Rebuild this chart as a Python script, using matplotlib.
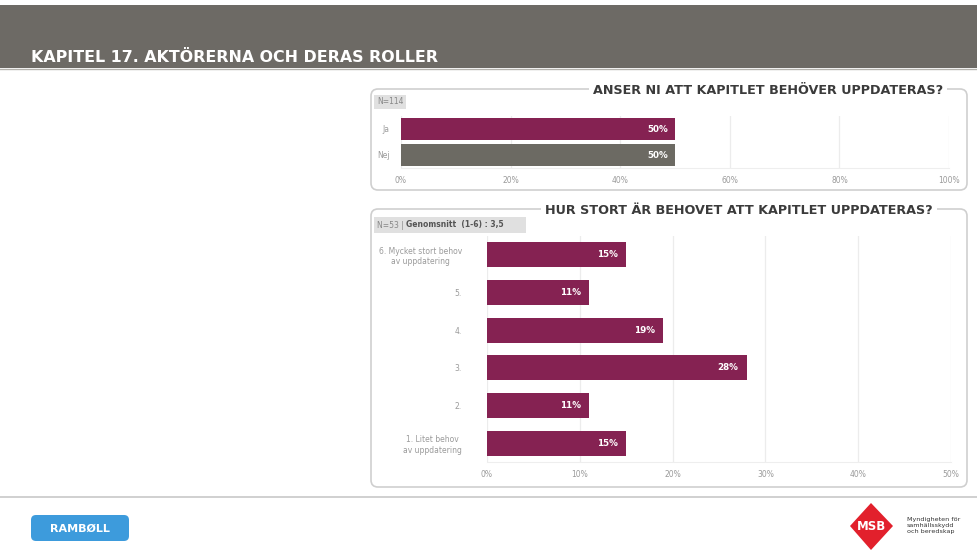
import matplotlib
matplotlib.use("Agg")
import matplotlib.pyplot as plt
from matplotlib.patches import FancyBboxPatch, Rectangle, Polygon

# ---- data ----
page_title = "KAPITEL 17. AKTÖRERNA OCH DERAS ROLLER"
q1_title = "ANSER NI ATT KAPITLET BEHÖVER UPPDATERAS?"
q1_n = "N=114"
q1_categories = ["Ja", "Nej"]
q1_values = [50, 50]
q1_ticks = [0, 20, 40, 60, 80, 100]

q2_title = "HUR STORT ÄR BEHOVET ATT KAPITLET UPPDATERAS?"
q2_n = "N=53 | "
q2_mean = "Genomsnitt  (1-6) : 3,5"
q2_categories = ["6. Mycket stort behov\nav uppdatering", "5.", "4.", "3.", "2.",
                 "1. Litet behov\nav uppdatering"]
q2_values = [15, 11, 19, 28, 11, 15]
q2_ticks = [0, 10, 20, 30, 40, 50]

PURPLE = "#852252"
GRAYBAR = "#6c6a63"
HEADER = "#6d6a65"
LABEL = "#9a9a9a"

W, H = 978, 552
fig = plt.figure(figsize=(W / 100, H / 100), dpi=100)
fig.patch.set_facecolor("white")

# background axes in pixel coordinates
bg = fig.add_axes([0, 0, 1, 1], zorder=0)
bg.set_xlim(0, W)
bg.set_ylim(H, 0)
bg.axis("off")

# header band
bg.add_patch(Rectangle((0, 5), W, 63, facecolor=HEADER, edgecolor="none"))
bg.plot([0, W], [68.5, 68.5], color="#b5b3ae", lw=1)
bg.text(31, 62, page_title, color="white", fontsize=11.4, fontweight="bold",
        va="baseline", ha="left")

# footer line
bg.plot([0, W], [497, 497], color="#c8c8c8", lw=1.2)

# panel boxes
def panel(x0, y0, x1, y1, title, tx):
    bg.add_patch(FancyBboxPatch((x0, y0), x1 - x0, y1 - y0,
                                boxstyle="round,pad=0,rounding_size=7",
                                facecolor="white", edgecolor="#cfcfcf", lw=1.2))
    bg.text(tx, y0 + 1, title, color="#3b3b3b", fontsize=9.2, fontweight="bold",
            ha="center", va="center",
            bbox=dict(facecolor="white", edgecolor="none", pad=3))

panel(371, 89, 967, 190, q1_title, 768)
panel(371, 209, 967, 487, q2_title, 739)

# N labels
bg.text(377, 102, q1_n, fontsize=5.5, color="#888888", ha="left", va="center",
        bbox=dict(facecolor="#e0e0e0", edgecolor="none", pad=2))
bg.add_patch(Rectangle((374, 217), 152, 16, facecolor="#e0e0e0", edgecolor="none"))
bg.text(377, 225, q2_n, fontsize=5.5, color="#888888", ha="left", va="center")
bg.text(406, 225, q2_mean, fontsize=5.5, color="#555555", fontweight="bold",
        ha="left", va="center")

# ---- axes helpers ----
def px_axes(left, top, right, bottom):
    return fig.add_axes([left / W, 1 - bottom / H, (right - left) / W, (bottom - top) / H],
                        zorder=2)

def style(ax, ticks, ypad):
    ax.set_facecolor("none")
    for s in ["top", "right", "left"]:
        ax.spines[s].set_visible(False)
    ax.spines["bottom"].set_color("#eeeeee")
    ax.set_xticks(ticks)
    ax.set_xticklabels([f"{t}%" for t in ticks])
    ax.xaxis.grid(True, color="#ececec", lw=0.9)
    ax.set_axisbelow(True)
    ax.tick_params(axis="x", length=0, pad=6, labelsize=5.5, labelcolor=LABEL)
    ax.tick_params(axis="y", length=0, pad=ypad, labelsize=5.5, labelcolor=LABEL)

# ---- top chart ----
ax1 = px_axes(401, 116, 949, 168)
y1 = list(range(len(q1_categories)))
ax1.barh(y1, q1_values, height=0.84, color=[PURPLE, GRAYBAR])
ax1.set_yticks(y1)
ax1.set_yticklabels(q1_categories)
ax1.set_ylim(len(q1_categories) - 0.5, -0.5)
ax1.set_xlim(0, 100)
style(ax1, q1_ticks, 8)
for yi, v in zip(y1, q1_values):
    ax1.text(v - 1.2, yi, f"{v}%", color="white", fontsize=6.3, fontweight="bold",
             ha="right", va="center")

# ---- bottom chart ----
ax2 = px_axes(487, 236, 951, 462)
y2 = list(range(len(q2_categories)))
ax2.barh(y2, q2_values, height=0.66, color=PURPLE)
ax2.set_yticks(y2)
ax2.set_yticklabels(q2_categories)
for lab in ax2.get_yticklabels():
    lab.set_multialignment("center")
ax2.set_ylim(len(q2_categories) - 0.5, -0.5)
ax2.set_xlim(0, 50)
style(ax2, q2_ticks, 18)
for yi, v in zip(y2, q2_values):
    ax2.text(v - 0.9, yi, f"{v}%", color="white", fontsize=6.3, fontweight="bold",
             ha="right", va="center")

# ---- logos ----
bg.add_patch(FancyBboxPatch((31, 515), 98, 26, boxstyle="round,pad=0,rounding_size=5",
                            facecolor="#3d9bdc", edgecolor="none"))
bg.text(80, 528.5, "RAMBØLL", color="white", fontsize=8, fontweight="bold",
        ha="center", va="center")
bg.add_patch(Polygon([[850, 526], [871, 503], [893, 526], [871, 550]],
                     closed=True, facecolor="#e2202c", edgecolor="none"))
bg.text(871, 527, "MSB", color="white", fontsize=8.5, fontweight="bold",
        ha="center", va="center")
bg.text(907, 526, "Myndigheten för\nsamhällsskydd\noch beredskap", color="#333333",
        fontsize=4.6, ha="left", va="center", linespacing=1.25)

fig.savefig("out.png", dpi=100, facecolor="white")
